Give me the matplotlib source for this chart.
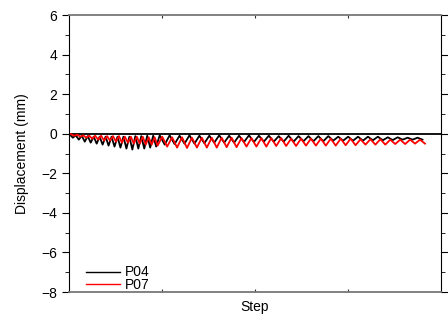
import numpy as np
import matplotlib.pyplot as plt
from matplotlib.ticker import MultipleLocator

plt.rcParams['font.family'] = ['Liberation Sans', 'DejaVu Sans']

# steps per load cycle (early cycles are shorter)
cycle_steps = [6] * 15 + [10] * 27

p04_peak = [-0.05, -0.08, -0.1, -0.12, -0.15, -0.15, -0.15, -0.15, -0.15, -0.15, -0.15, -0.12, -0.12, -0.1, -0.1,
            -0.08, -0.08, -0.1, -0.08, -0.1, -0.1, -0.08, -0.1, -0.1, -0.08, -0.1, -0.1, -0.12, -0.1, -0.12,
            -0.12, -0.12, -0.12, -0.15, -0.15, -0.15, -0.15, -0.15, -0.18, -0.18, -0.2, -0.2]
p04_trough = [-0.2, -0.3, -0.4, -0.45, -0.5, -0.55, -0.6, -0.65, -0.7, -0.75, -0.8, -0.75, -0.75, -0.7, -0.65,
              -0.55, -0.52, -0.5, -0.5, -0.48, -0.45, -0.45, -0.45, -0.42, -0.42, -0.4, -0.4, -0.4, -0.4, -0.38,
              -0.38, -0.38, -0.35, -0.35, -0.35, -0.35, -0.33, -0.33, -0.32, -0.3, -0.3, -0.3]

p07_peak = [-0.03, -0.05, -0.08, -0.1, -0.1, -0.1, -0.12, -0.12, -0.12, -0.15, -0.15, -0.15, -0.15, -0.18, -0.18,
            -0.15, -0.18, -0.18, -0.2, -0.2, -0.2, -0.2, -0.2, -0.22, -0.22, -0.22, -0.22, -0.22, -0.25, -0.25,
            -0.25, -0.25, -0.25, -0.25, -0.25, -0.28, -0.28, -0.28, -0.3, -0.3, -0.3, -0.3]
p07_trough = [-0.1, -0.15, -0.2, -0.25, -0.3, -0.35, -0.35, -0.4, -0.45, -0.45, -0.5, -0.5, -0.55, -0.55, -0.6,
              -0.65, -0.7, -0.72, -0.7, -0.7, -0.7, -0.68, -0.68, -0.65, -0.65, -0.65, -0.62, -0.62, -0.62, -0.6,
              -0.6, -0.6, -0.6, -0.58, -0.58, -0.55, -0.55, -0.55, -0.52, -0.52, -0.5, -0.5]


def zigzag(peaks, troughs, steps, phase):
    # one peak and one trough per cycle
    starts = np.concatenate([[0], np.cumsum(steps)[:-1]])
    x, y = [0.0], [0.0]
    for s, d, p, t in zip(starts, steps, peaks, troughs):
        x += [s + d * phase, s + d * (phase + 0.5)]
        y += [p, t]
    return np.array(x), np.array(y)


x04, y04 = zigzag(p04_peak, p04_trough, cycle_steps, 0.15)
x07, y07 = zigzag(p07_peak, p07_trough, cycle_steps, 0.4)

fig = plt.figure(figsize=(4.48, 3.2), dpi=100)
ax = fig.add_axes([0.154, 0.0875, 0.83, 0.8655])

total = sum(cycle_steps)
ax.axhline(0, color='black', lw=1.3)
ax.plot(x04, y04, color='black', lw=1.3, label='P04')
ax.plot(x07, y07, color='red', lw=1.3, label='P07')

ax.set_xlim(0, total / 0.96)
ax.set_ylim(-8, 6)
ax.yaxis.set_major_locator(MultipleLocator(2))
ax.yaxis.set_minor_locator(MultipleLocator(1))
ax.set_xticks(np.linspace(0, total / 0.96, 5)[1:-1])
ax.set_xticklabels([])
ax.tick_params(axis='y', which='both', direction='out', right=True, labelsize=10)
ax.tick_params(axis='y', which='major', length=5)
ax.tick_params(axis='y', which='minor', length=3)
ax.tick_params(axis='x', direction='in', top=True, length=2, color='#333333')

for side in ['top', 'bottom']:
    ax.spines[side].set_color('#777777')
    ax.spines[side].set_linewidth(1.3)

ax.set_xlabel('Step', fontsize=10, labelpad=2)
ax.set_ylabel('Displacement (mm)', fontsize=10, labelpad=9)

leg = ax.legend(loc='lower left', frameon=False, fontsize=10, handlelength=2.5, handletextpad=0.3,
                labelspacing=-0.1, borderaxespad=0, bbox_to_anchor=(0.03, -0.02))
for line in leg.get_lines():
    line.set_linewidth(1.0)

fig.savefig('out.png', dpi=100)
